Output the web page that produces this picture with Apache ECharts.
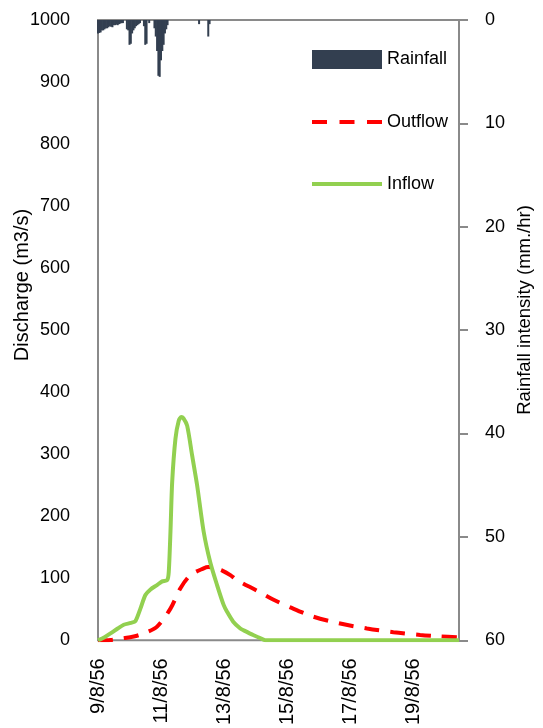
<!DOCTYPE html>
<html>
<head>
<meta charset="utf-8">
<title>Discharge and rainfall</title>
<script src="https://cdn.jsdelivr.net/npm/echarts/dist/echarts.min.js"></script>
<style>
    html, body { margin: 0; padding: 0; background: #fff; }
    #chartBox { width: 543px; height: 728px; }
</style>
</head>
<body>
<div id="chartBox"></div>
<script>
// 横轴刻度标签（每两天一个）
var dateLabels = ['9/8/56', '11/8/56', '13/8/56', '15/8/56', '17/8/56', '19/8/56'];

// 降雨强度 (mm./hr)，时间为自 9/8/56 0:00 起的小时数
var rainHours = [0, 1, 2, 3, 4, 5, 6, 7, 8, 9, 10, 11, 12, 13, 14, 15, 16, 17, 18, 19,
    22, 23, 24, 25, 26, 27, 28, 29, 30, 31, 32,
    35, 36, 37, 39,
    43, 44, 45, 46, 47, 48, 49, 50, 51, 52, 53,
    77, 84, 85];
var rainValues = [1.3, 1.25, 1.2, 1.0, 1.0, 0.9, 0.8, 0.8, 0.7, 0.6, 0.65, 0.7, 0.5, 0.5, 0.45, 0.5, 0.4, 0.35, 0.3, 0.3,
    0.9, 1.0, 2.4, 2.3, 1.3, 1.0, 0.8, 0.6, 0.5, 0.4, 0.3,
    0.6, 2.4, 2.3, 0.3,
    0.8, 1.6, 3.0, 5.4, 5.5, 3.9, 3.0, 2.4, 1.3, 0.9, 0.5,
    0.4, 1.6, 0.4];

// 入流 (m3/s)
var inflowHours = [0, 5, 9.5, 15, 19.6, 25, 28.5, 32.3, 36.1, 40, 45, 48.9, 52.7, 53.9, 55.2, 56.5, 59, 61.5, 63.5, 65,
    67.9, 71.7, 75.5, 80.5, 85.6, 90.7, 95.7, 98.3, 103, 108.4, 111, 118.6, 123, 127.5, 275];
var inflowValues = [0, 5, 11, 19, 25, 28, 31, 51, 73, 82, 89, 95, 97, 110, 175, 255, 325, 354, 360, 358,
    346, 298, 250, 175, 125, 89, 57, 46, 30, 19, 16, 8, 4, 0, 0];

// 出流 (m3/s)
var outflowHours = [0, 9.5, 18, 27.2, 36, 45, 55.2, 62.8, 70.4, 80.5, 84, 88.1, 95, 100.8, 105.9, 121, 133, 146.5,
    164.2, 184.5, 204.9, 225, 245.4, 260, 275];
var outflowValues = [0, 0.5, 3, 6, 12, 22, 51, 84, 105, 116, 118, 117, 112, 105, 97, 80, 66, 53,
    38, 27, 19, 13, 8.6, 6.5, 4.8];

function pairs(xs, ys) {
    var out = [];
    for (var i = 0; i < xs.length; i++) {
        out.push([xs[i], ys[i]]);
    }
    return out;
}

var axisGray = '#8a8a8a';
var fontName = 'Liberation Sans, Arial, sans-serif';

var myChart = echarts.init(document.getElementById('chartBox'), null, { renderer: 'canvas' });

var option = {
    backgroundColor: '#fff',
    animation: false,
    textStyle: { fontFamily: fontName, color: '#000' },
    grid: {
        show: true,
        left: 98,
        right: 84,
        top: 20,
        bottom: 86,
        borderColor: axisGray,
        borderWidth: 2
    },
    legend: {
        orient: 'vertical',
        left: 310,
        top: 50,
        padding: 0,
        itemWidth: 70,
        itemHeight: 19,
        itemGap: 44,
        selectedMode: false,
        textStyle: { fontSize: 18, color: '#000', fontFamily: fontName },
        lineStyle: { width: 4 },
        data: [
            { name: 'Rainfall', icon: 'rect' },
            // 图例中只画线，不画圆点
            { name: 'Outflow', itemStyle: { opacity: 0 }, lineStyle: { width: 4, type: [15, 12.5] } },
            { name: 'Inflow', itemStyle: { opacity: 0 } }
        ]
    },
    xAxis: {
        type: 'value',
        min: 0,
        max: 275,
        interval: 48,
        axisLine: { show: false },
        axisTick: { show: false },
        splitLine: { show: false },
        axisLabel: {
            rotate: 90,
            margin: 18,
            fontSize: 20,
            color: '#000',
            fontFamily: fontName,
            showMaxLabel: false,
            formatter: function (v) {
                return v % 48 === 0 ? (dateLabels[v / 48] || '') : '';
            }
        }
    },
    yAxis: [{
        // 左轴：流量
        type: 'value',
        position: 'left',
        min: 0,
        max: 1000,
        interval: 100,
        axisLine: { show: false },
        axisTick: { show: false },
        splitLine: { show: false },
        axisLabel: {
            margin: 28, fontSize: 18, color: '#000', fontFamily: fontName,
            formatter: function (v) { return String(v); }
        }
    }, {
        // 右轴：降雨强度，倒置
        type: 'value',
        position: 'right',
        inverse: true,
        min: 0,
        max: 60,
        interval: 10,
        axisLine: { show: false },
        axisTick: { show: true, length: 9, lineStyle: { color: axisGray, width: 2 } },
        splitLine: { show: false },
        axisLabel: { margin: 26, fontSize: 18, color: '#000', fontFamily: fontName }
    }],
    graphic: [{
        type: 'text',
        x: 22,
        y: 285,
        rotation: Math.PI / 2,
        style: {
            text: 'Discharge (m3/s)',
            fontSize: 20,
            fontFamily: fontName,
            fill: '#000',
            align: 'center',
            verticalAlign: 'middle'
        }
    }, {
        type: 'text',
        x: 525,
        y: 310,
        rotation: Math.PI / 2,
        style: {
            text: 'Rainfall intensity (mm./hr)',
            fontSize: 18.5,
            fontFamily: fontName,
            fill: '#000',
            align: 'center',
            verticalAlign: 'middle'
        }
    }],
    series: [{
        name: 'Rainfall',
        type: 'bar',
        yAxisIndex: 1,
        barWidth: 2,
        itemStyle: { color: '#333f50' },
        data: pairs(rainHours, rainValues)
    }, {
        name: 'Outflow',
        type: 'line',
        yAxisIndex: 0,
        symbol: 'none',
        smooth: 0.3,
        lineStyle: { color: '#ff0000', width: 4, type: [15, 11] },
        itemStyle: { color: '#ff0000' },
        data: pairs(outflowHours, outflowValues)
    }, {
        name: 'Inflow',
        type: 'line',
        yAxisIndex: 0,
        symbol: 'none',
        smooth: 0.25,
        lineStyle: { color: '#92d050', width: 4 },
        itemStyle: { color: '#92d050' },
        data: pairs(inflowHours, inflowValues)
    }]
};

myChart.setOption(option);
</script>
</body>
</html>
